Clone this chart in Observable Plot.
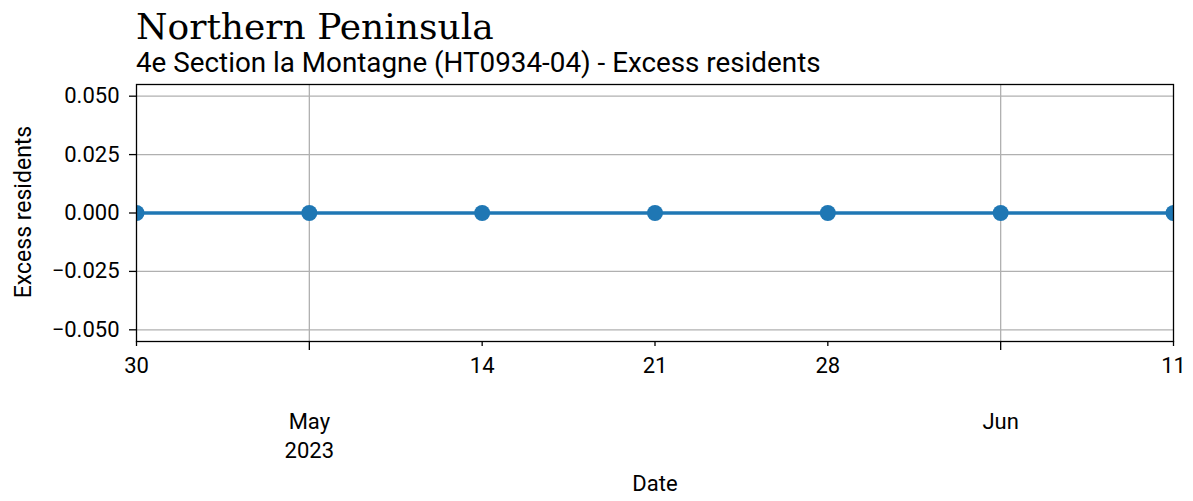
<!DOCTYPE html>
<html><head><meta charset="utf-8">
<script src="https://cdn.jsdelivr.net/npm/d3@7"></script>
<script src="https://cdn.jsdelivr.net/npm/@observablehq/plot@0.6"></script>
<style>
body{margin:0;background:#fff;}
#chart svg{display:block;}
</style>
</head><body><div id="chart"></div>
<script>
const titleText = "Northern Peninsula";
const subtitleText = "4e Section la Montagne (HT0934-04) - Excess residents";
const dates = ["2023-04-30","2023-05-07","2023-05-14","2023-05-21","2023-05-28","2023-06-04","2023-06-11"];
const values = [0, 0, 0, 0, 0, 0, 0];
const xDomain = ["2023-04-30","2023-06-11"];
const yDomain = [-0.055, 0.055];
const yTicks = [-0.05, -0.025, 0, 0.025, 0.05];
const minorTicks = ["2023-04-30","2023-05-14","2023-05-21","2023-05-28","2023-06-11"];
const majorTicks = ["2023-05-07","2023-06-04"];
const majorLabels = ["May\n2023","Jun"];
const yLabel = "Excess residents";
const xLabel = "Date";

const P = s => d3.utcParse("%Y-%m-%d")(s);
const data = dates.map((d,i)=>({date:P(d), value:values[i]}));
const majorDates = majorTicks.map(P);
const majorFmt = d => majorLabels[majorDates.findIndex(m => +m === +d)];

const W = 1193, H = 501;
const plot = Plot.plot({
  width: W, height: H,
  marginLeft: 136, marginRight: 20, marginTop: 84, marginBottom: 160,
  style: {fontFamily: "Roboto", fontSize: "22px", color: "#000", background: "#fff"},
  x: {type: "utc", domain: xDomain.map(P)},
  y: {domain: yDomain},
  marks: [
    Plot.gridY(yTicks, {stroke: "#b0b0b0", strokeOpacity: 1, strokeWidth: 1.3}),
    Plot.gridX(majorDates, {stroke: "#b0b0b0", strokeOpacity: 1, strokeWidth: 1.3}),
    Plot.axisY(yTicks, {tickSize: 7, tickPadding: 10, tickFormat: d3.format(".3f"), fontSize: 22,
      label: null, strokeWidth: 1.3}),
    Plot.axisX(minorTicks.map(P), {tickSize: 5, tickPadding: 11, tickFormat: d3.utcFormat("%-d"), fontSize: 22, label: null, strokeWidth: 1.3}),
    Plot.axisX(majorDates, {tickSize: 9, tickPadding: 58, tickFormat: majorFmt, fontSize: 22, lineHeight: 1.32,
      label: null, strokeWidth: 1.3}),
    Plot.line(data, {x: "date", y: "value", stroke: "#1f77b4", strokeWidth: 3.5, clip: true}),
    Plot.dot(data, {x: "date", y: "value", fill: "#1f77b4", r: 8, clip: true}),
    Plot.frame({stroke: "#000", strokeWidth: 1.3})
  ]
});
const svg = d3.select(plot);
const addText = (x, y, txt, family, size, rotate) => {
  const t = svg.append("text").attr("font-family", family).attr("font-size", size).attr("fill", "#000").text(txt);
  if (rotate) t.attr("text-anchor", "middle").attr("transform", `translate(${x},${y}) rotate(-90)`);
  else t.attr("x", x).attr("y", y);
  return t;
};
addText(136, 39, titleText, "DejaVu Serif", 36).attr("text-anchor", "start");
addText(136, 72, subtitleText, "Roboto", 27.8).attr("text-anchor", "start");
addText(31, 212, yLabel, "Roboto", 23, true);
addText(655, 491, xLabel, "Roboto", 22).attr("text-anchor", "middle");
document.getElementById("chart").appendChild(plot);
</script>
</body></html>
